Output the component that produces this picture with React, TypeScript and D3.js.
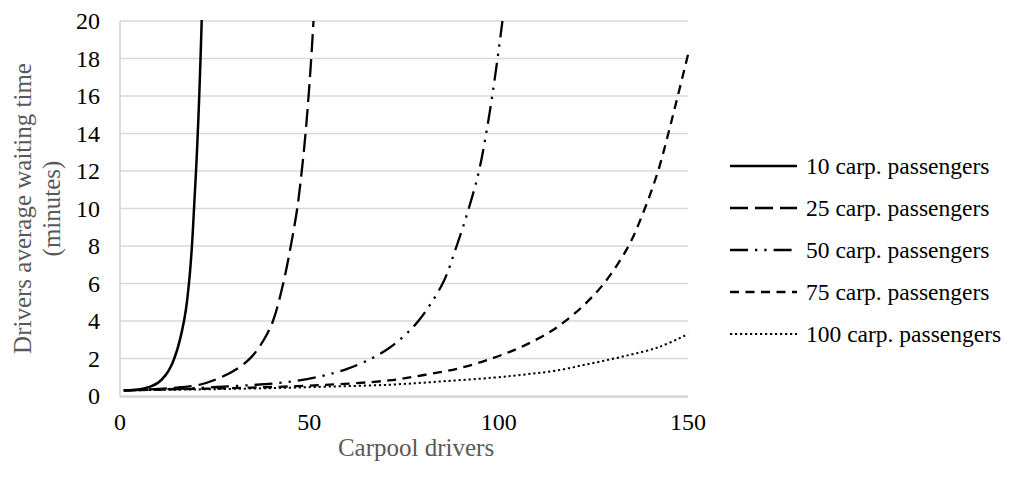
import React from 'react';
import * as d3 from 'd3';

// axis ticks
const xTicks = [0, 50, 100, 150];
const yTicks = [0, 2, 4, 6, 8, 10, 12, 14, 16, 18, 20];

// series: [carpool drivers, waiting time (min)]
const pass10: [number, number][] = [
  [1, 0.3], [5, 0.35], [8, 0.5], [10, 0.7], [12, 1.1], [13.5, 1.6], [15, 2.4],
  [16.4, 3.5], [17.4, 4.6], [18.3, 6.2], [19, 8.0], [19.6, 10.2], [20.2, 12.5],
  [20.7, 14.8], [21.1, 17], [21.5, 19.5], [21.6, 20.2],
];
const pass25: [number, number][] = [
  [1, 0.3], [8, 0.35], [15, 0.45], [21, 0.6], [26.7, 1], [31.3, 1.5], [34.8, 2.1],
  [38, 3], [40.4, 4], [43.1, 6], [45.1, 8], [46.8, 10], [48, 12],
  [49, 14], [49.8, 16], [50.5, 18], [51.1, 20],
];
const pass50: [number, number][] = [
  [1, 0.3], [15, 0.38], [25.7, 0.48], [36, 0.6], [44, 0.74], [53, 1.05],
  [60, 1.45], [66.4, 2.0], [71, 2.55], [75, 3.2], [79, 4.05], [85.2, 6],
  [88.9, 8], [92.1, 10], [94.8, 12], [96.7, 14], [98.3, 16], [99.7, 18], [101, 20],
];
const pass75: [number, number][] = [
  [1, 0.3], [20, 0.38], [35, 0.45], [53, 0.58], [71, 0.83], [80.3, 1.12],
  [89.6, 1.48], [98.6, 2.03], [106, 2.62], [113, 3.35], [117, 3.9], [122, 4.75],
  [127.8, 6], [134.3, 8], [138.6, 10], [142.1, 12], [144.8, 14], [147.3, 16], [150, 18.2],
];
const pass100: [number, number][] = [
  [1, 0.3], [20, 0.35], [40, 0.42], [55, 0.5], [71, 0.6], [85, 0.78], [98.6, 0.98],
  [107, 1.15], [115, 1.35], [124, 1.72], [133.3, 2.13], [142.3, 2.61], [150, 3.3],
];

const seriesNames = [
  '10 carp. passengers',
  '25 carp. passengers',
  '50 carp. passengers',
  '75 carp. passengers',
  '100 carp. passengers',
];
const seriesData = [pass10, pass25, pass50, pass75, pass100];

const W = 1011;
const H = 480;
const plot = { left: 120, right: 688, top: 21, bottom: 396 };
const font = '"Liberation Serif", "Times New Roman", serif';

// dash styles for each series (Excel-like)
const styles = [
  { dash: 'none', width: 2.5 },
  { dash: '18,7', width: 2.3 },
  { dash: '18,7,2.3,7,2.3,7', width: 2.3 },
  { dash: '9,6.5', width: 2.3 },
  { dash: '2.2,2.8', width: 2 },
];

export default function App() {
  const x = d3.scaleLinear().domain([0, 150]).range([plot.left, plot.right]);
  const y = d3.scaleLinear().domain([0, 20]).range([plot.bottom, plot.top]);
  const line = d3.line<[number, number]>()
    .x(d => x(d[0]))
    .y(d => y(d[1]))
    .curve(d3.curveCatmullRom.alpha(0.5));

  const legendX = 730;
  const legendY0 = 166;
  const legendStep = 42;

  return (
    <div style={{ position: 'absolute', left: 0, top: 0 }}>
      <svg width={W} height={H} style={{ display: 'block', background: '#fff' }}>
        <rect width={W} height={H} fill="#fff" />
        <defs>
          <clipPath id="plotClip">
            <rect x={plot.left} y={plot.top - 1} width={plot.right - plot.left + 2} height={plot.bottom - plot.top + 4} />
          </clipPath>
        </defs>

        {/* gridlines */}
        {yTicks.map(t => (
          <line key={t} x1={plot.left} x2={plot.right} y1={y(t)} y2={y(t)}
            stroke="#d9d9d9" strokeWidth={1.5} />
        ))}
        {/* axis lines */}
        <line x1={plot.left} x2={plot.left} y1={plot.top} y2={plot.bottom + 1}
          stroke="#d0d0d0" strokeWidth={1.5} />
        <line x1={plot.left} x2={plot.right} y1={plot.bottom + 1} y2={plot.bottom + 1}
          stroke="#d0d0d0" strokeWidth={1.5} />

        {/* y tick labels */}
        {yTicks.map(t => (
          <text key={t} x={100} y={y(t)} dy="0.35em" textAnchor="end"
            fontFamily={font} fontSize={24} fill="#000">{t}</text>
        ))}
        {/* x tick labels */}
        {xTicks.map(t => (
          <text key={t} x={x(t)} y={430} textAnchor="middle"
            fontFamily={font} fontSize={24} fill="#000">{t}</text>
        ))}

        {/* series */}
        <g clipPath="url(#plotClip)">
          {seriesData.map((d, i) => (
            <path key={i} d={line(d) || ''} fill="none" stroke="#000"
              strokeWidth={styles[i].width}
              strokeDasharray={styles[i].dash} />
          ))}
        </g>

        {/* axis titles */}
        <text x={416} y={456} textAnchor="middle"
          fontFamily={font} fontSize={25} fill="#595959">Carpool drivers</text>
        <g transform={`translate(31, ${(plot.top + plot.bottom) / 2}) rotate(-90)`}>
          <text x={0} y={0} textAnchor="middle" fontFamily={font} fontSize={25} fill="#595959">
            Drivers average waiting time
          </text>
          <text x={0} y={29} textAnchor="middle" fontFamily={font} fontSize={25} fill="#595959">
            (minutes)
          </text>
        </g>

        {/* legend */}
        {seriesNames.map((name, i) => {
          const ly = legendY0 + i * legendStep;
          return (
            <g key={name}>
              <line x1={legendX} x2={legendX + 67} y1={ly} y2={ly} stroke="#000"
                strokeWidth={styles[i].width} strokeDasharray={styles[i].dash} />
              <text x={legendX + 76} y={ly} dy="0.35em" fontFamily={font}
                fontSize={23.5} fill="#000">{name}</text>
            </g>
          );
        })}
      </svg>
    </div>
  );
}
